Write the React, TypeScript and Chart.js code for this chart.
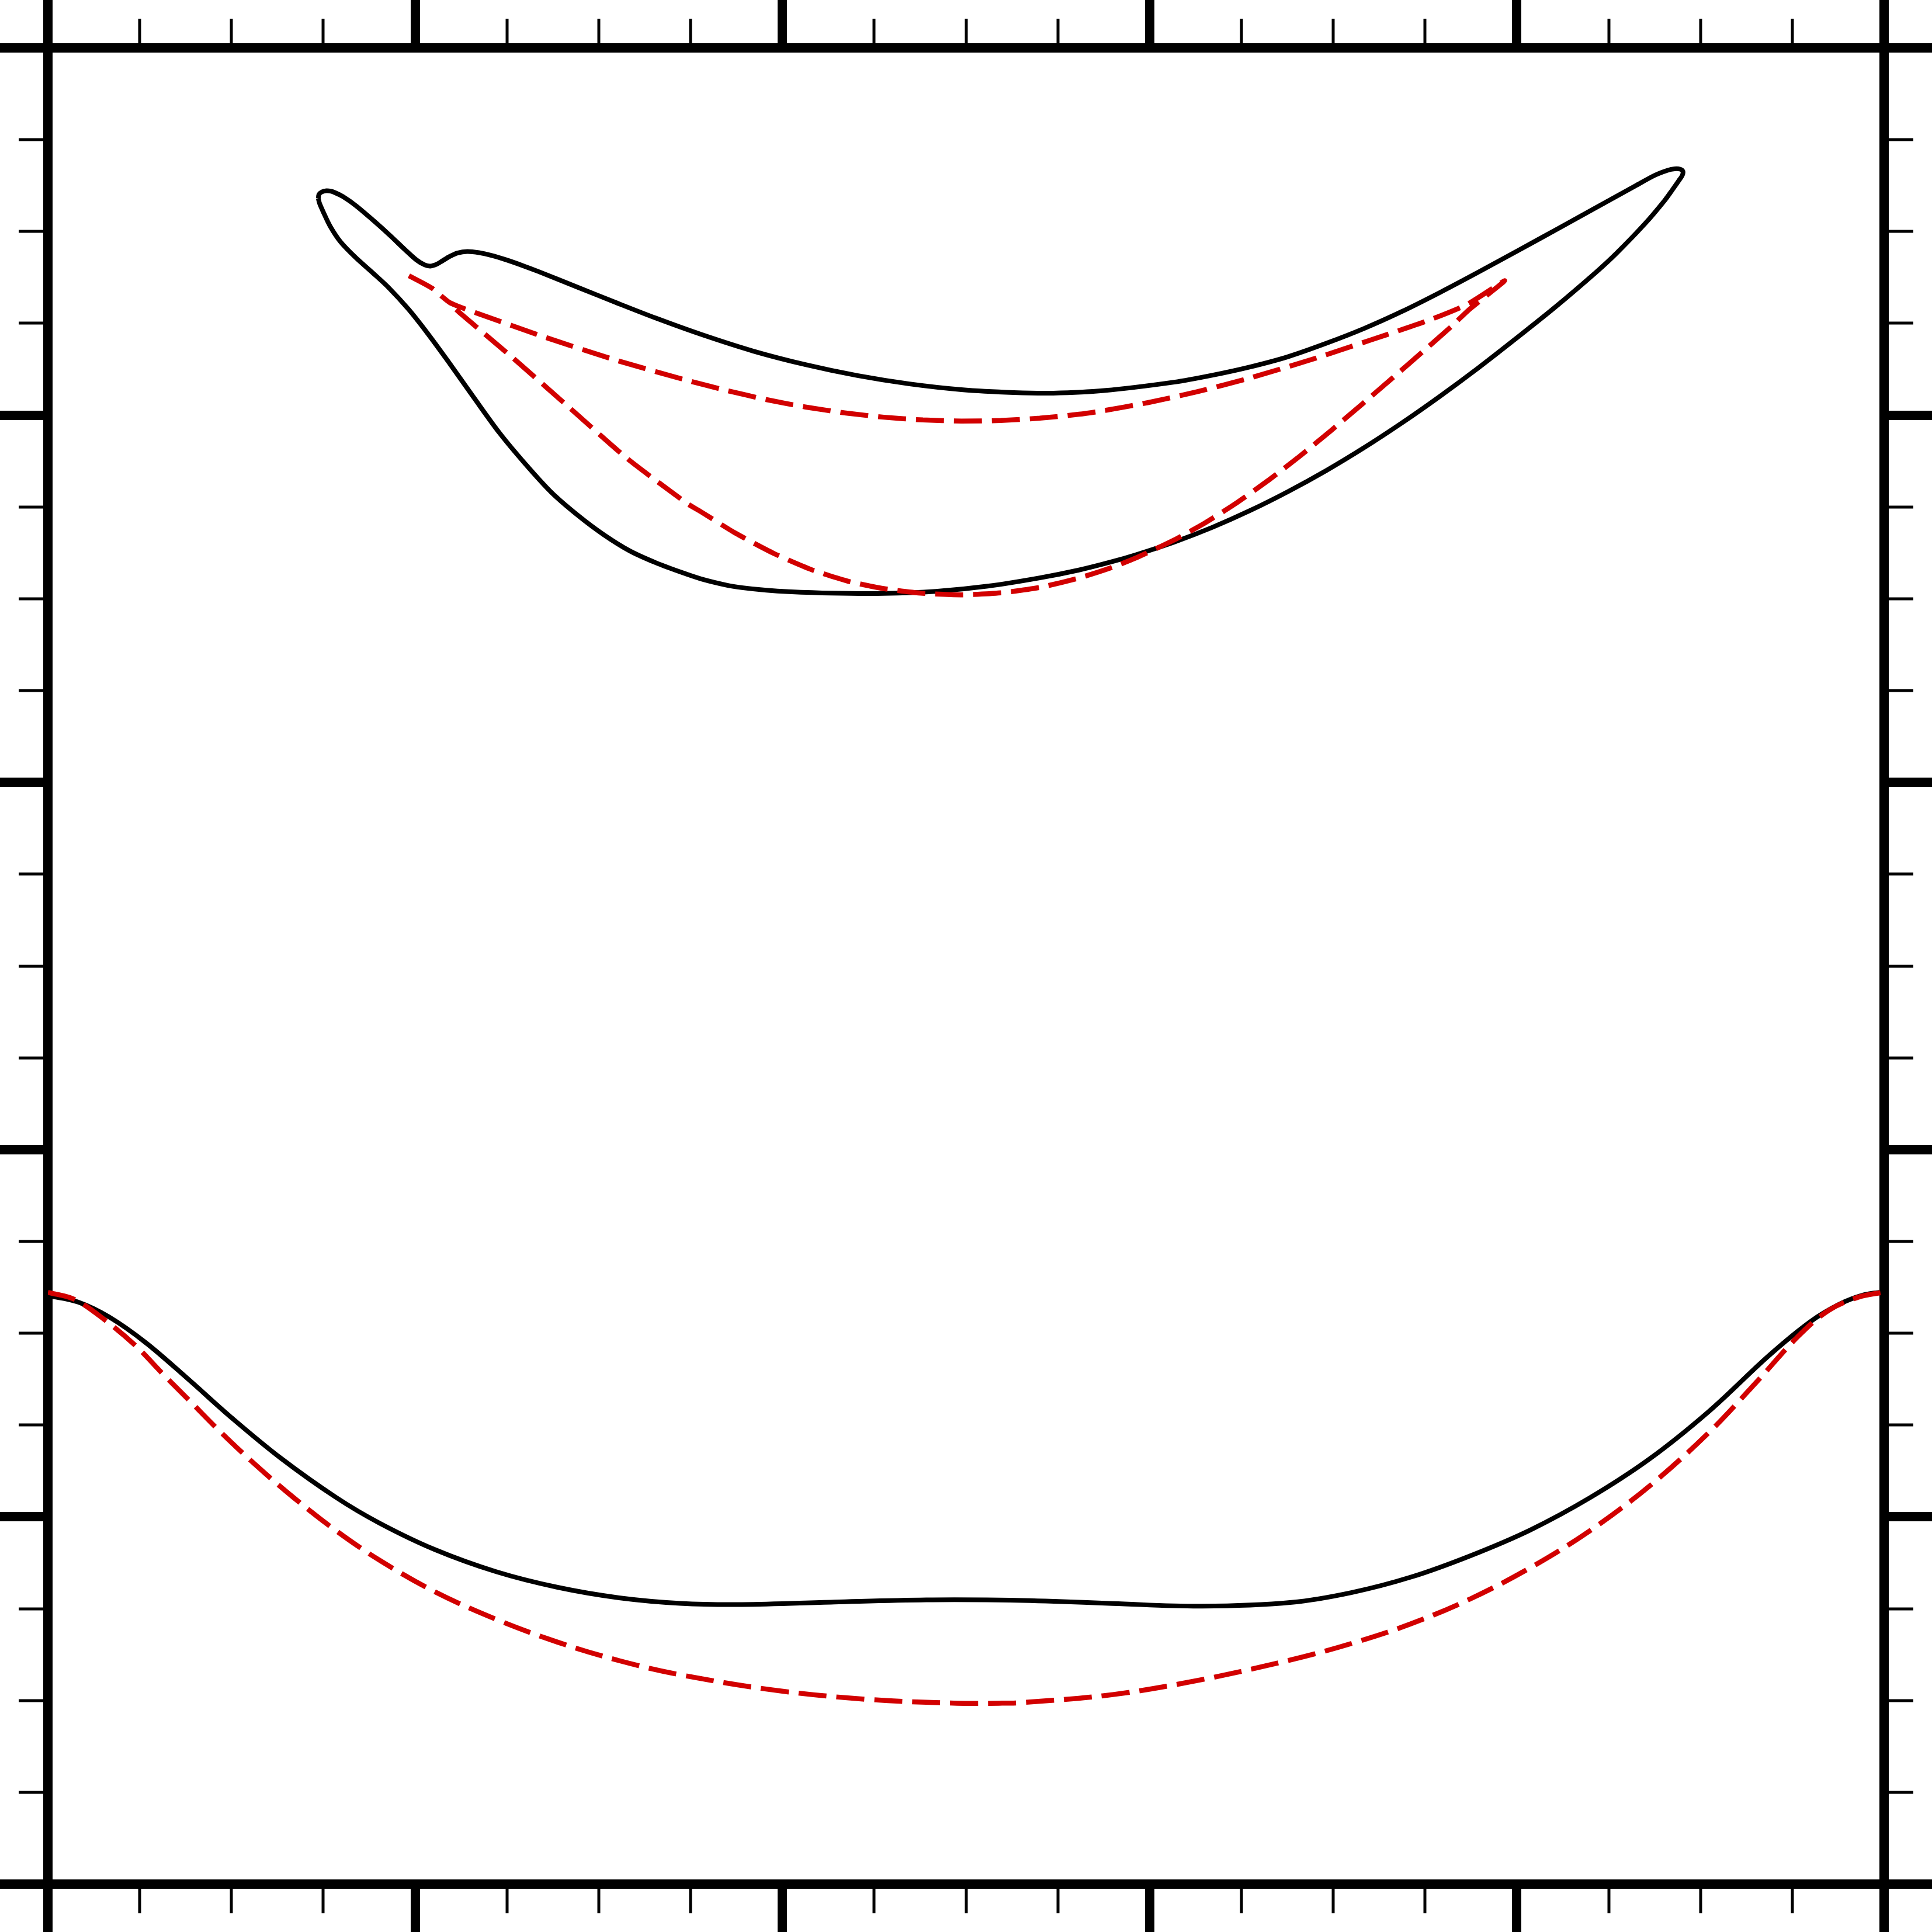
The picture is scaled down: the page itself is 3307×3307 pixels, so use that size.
import React, { useEffect, useRef } from 'react';
import { Chart, registerables } from 'chart.js';

Chart.register(...registerables);

// Axis range and tick positions (no labels in the reference)
const AXIS_MIN = 0;
const AXIS_MAX = 5;
const MAJOR_TICKS = [0, 1, 2, 3, 4, 5];
const TICK_VALUES = [0, 0.25, 0.5, 0.75, 1, 1.25, 1.5, 1.75, 2, 2.25, 2.5, 2.75, 3, 3.25, 3.5, 3.75, 4, 4.25, 4.5, 4.75, 5];

// Blade outline (solid black, closed)
const bladeX = [0.7364, 0.7380, 0.7460, 0.7587, 0.7714, 0.7826, 0.8032, 0.8398, 0.8875, 0.9305, 0.9718, 1.0037, 1.0259, 1.0418, 1.0593, 1.0736, 1.0943, 1.1150, 1.1420, 1.1739, 1.2073, 1.2486, 1.2963, 1.3361, 1.4427, 1.5492, 1.6558, 1.7783, 1.9198, 2.0630, 2.2046, 2.3461, 2.4877, 2.6308, 2.7374, 2.8758, 3.0667, 3.1700, 3.2734, 3.3768, 3.4802, 3.5836, 3.6870, 3.7919, 3.8953, 4.0051, 4.1117, 4.2166, 4.3232, 4.3757, 4.4107, 4.4298, 4.4441, 4.4520, 4.4505, 4.4401, 4.4234, 4.4027, 4.3503, 4.2707, 4.2166, 4.1021, 3.9987, 3.8953, 3.7919, 3.6885, 3.5836, 3.4802, 3.3768, 3.2734, 3.1700, 3.0667, 2.9633, 2.8917, 2.8074, 2.7008, 2.5592, 2.4177, 2.2745, 2.1330, 2.0169, 1.9564, 1.8896, 1.8498, 1.7783, 1.7258, 1.6558, 1.5842, 1.5126, 1.4427, 1.3711, 1.3011, 1.2295, 1.1580, 1.0880, 1.0307, 0.9814, 0.9273, 0.8844, 0.8382, 0.7969, 0.7683, 0.7492, 0.7396, 0.7364];
const bladeY = [4.5897, 4.6008, 4.6079, 4.6111, 4.6095, 4.6055, 4.5952, 4.5696, 4.5290, 4.4904, 4.4511, 4.4225, 4.4091, 4.4060, 4.4112, 4.4198, 4.4322, 4.4414, 4.4456, 4.4424, 4.4351, 4.4227, 4.4060, 4.3909, 4.3482, 4.3056, 4.2641, 4.2200, 4.1747, 4.1375, 4.1077, 4.0851, 4.0695, 4.0616, 4.0600, 4.0669, 4.0898, 4.1085, 4.1312, 4.1591, 4.1953, 4.2358, 4.2822, 4.3347, 4.3894, 4.4492, 4.5077, 4.5658, 4.6246, 4.6532, 4.6668, 4.6707, 4.6699, 4.6644, 4.6532, 4.6373, 4.6135, 4.5849, 4.5229, 4.4402, 4.3900, 4.2922, 4.2095, 4.1289, 4.0524, 3.9799, 3.9112, 3.8487, 3.7918, 3.7401, 3.6941, 3.6542, 3.6200, 3.5993, 3.5782, 3.5569, 3.5343, 3.5201, 3.5144, 3.5152, 3.5192, 3.5232, 3.5303, 3.5367, 3.5542, 3.5717, 3.5979, 3.6305, 3.6751, 3.7275, 3.7896, 3.8659, 3.9518, 4.0504, 4.1490, 4.2269, 4.2890, 4.3478, 4.3876, 4.4290, 4.4719, 4.5149, 4.5546, 4.5769, 4.5897];

// Blade reference contour (red dashed)
const bladeDashX = [0.9830, 1.0450, 1.0943, 1.1723, 1.3425, 1.5413, 1.7401, 1.8498, 1.9564, 2.0630, 2.1696, 2.2761, 2.3827, 2.4877, 2.5943, 2.7008, 2.8074, 2.8599, 2.9951, 3.1287, 3.2734, 3.4389, 3.6043, 3.7506, 3.8636, 3.9669, 3.8683, 3.8222, 3.7395, 3.6568, 3.5741, 3.4913, 3.4086, 3.3259, 3.2321, 3.1494, 3.0667, 2.9633, 2.8917, 2.8074, 2.7008, 2.5943, 2.4877, 2.3827, 2.2761, 2.1759, 2.0773, 1.9771, 1.8706, 1.7783, 1.7401, 1.5779, 1.4204, 1.2645, 1.1230, 1.0943];
const bladeDashY = [4.3797, 4.3463, 4.3065, 4.2763, 4.2160, 4.1514, 4.0948, 4.0668, 4.0423, 4.0221, 4.0062, 3.9944, 3.9869, 3.9838, 3.9854, 3.9917, 4.0024, 4.0097, 4.0340, 4.0635, 4.1012, 4.1508, 4.2053, 4.2548, 4.3010, 4.3660, 4.2858, 4.2419, 4.1691, 4.0972, 4.0261, 3.9558, 3.8880, 3.8244, 3.7578, 3.7056, 3.6601, 3.6114, 3.5834, 3.5565, 3.5309, 3.5161, 3.5107, 3.5148, 3.5276, 3.5486, 3.5800, 3.6232, 3.6796, 3.7369, 3.7598, 3.8815, 4.0201, 4.1572, 4.2775, 4.3032];

// Lower wall (solid black)
const wallX = [0, 0.0822, 0.1658, 0.2664, 0.3832, 0.5006, 0.6344, 0.7850, 0.9025, 1.0531, 1.2205, 1.3879, 1.5553, 1.7226, 1.8897, 2.1410, 2.3919, 2.5895, 2.7400, 2.8998, 3.1433, 3.3867, 3.5491, 3.7113, 3.8736, 4.0360, 4.1983, 4.3606, 4.5228, 4.6852, 4.7988, 4.8799, 4.9448, 5.0];
const wallY = [1.6025, 1.5850, 1.5448, 1.4743, 1.3740, 1.2696, 1.1597, 1.0527, 0.9832, 0.9111, 0.8507, 0.8081, 0.7796, 0.7645, 0.7612, 0.7680, 0.7738, 0.7735, 0.7700, 0.7640, 0.7568, 0.7672, 0.7937, 0.8359, 0.8942, 0.9640, 1.0517, 1.1573, 1.2871, 1.4382, 1.5313, 1.5799, 1.6046, 1.6128];

// Lower wall reference (red dashed)
const wallDashX = [0, 0.0739, 0.1557, 0.2406, 0.3097, 0.3838, 0.4670, 0.5673, 0.6680, 0.7850, 0.9025, 1.0531, 1.2205, 1.3879, 1.5553, 1.7226, 1.9735, 2.2245, 2.4757, 2.5895, 2.6563, 2.8998, 3.1433, 3.3867, 3.5491, 3.7113, 3.8736, 4.0360, 4.1983, 4.3606, 4.5228, 4.6526, 4.7664, 4.8475, 4.9286, 5.0];
const wallDashY = [1.6115, 1.5914, 1.5357, 1.4643, 1.3925, 1.3183, 1.2341, 1.1399, 1.0533, 0.9621, 0.8823, 0.7964, 0.7209, 0.6588, 0.6085, 0.5699, 0.5287, 0.5035, 0.4925, 0.4925, 0.4945, 0.5160, 0.5570, 0.6111, 0.6550, 0.7086, 0.7767, 0.8611, 0.9617, 1.0835, 1.2295, 1.3671, 1.4921, 1.5612, 1.5978, 1.6121];

const BLACK = '#000000';
const RED = '#d20000';

const toPoints = (xs: number[], ys: number[]) => xs.map((x, i) => ({ x, y: ys[i] }));
const isMajor = (v: number) => MAJOR_TICKS.some((m) => Math.abs(m - v) < 1e-6);

function makeAxis(position: string, outerFirst: boolean) {
  return {
    type: 'linear',
    position,
    min: AXIS_MIN,
    max: AXIS_MAX,
    afterBuildTicks: (scale: any) => {
      scale.ticks = TICK_VALUES.map((value) => ({ value }));
    },
    ticks: { display: false, stepSize: 0.25 },
    title: { display: false },
    grid: {
      display: true,
      drawOnChartArea: false,
      drawTicks: true,
      tickLength: 82,
      lineWidth: 16,
      color: BLACK,
      tickColor: BLACK,
      tickWidth: (ctx: any) => (ctx.tick && isMajor(ctx.tick.value) ? 16 : 5),
      tickBorderDash: (ctx: any) =>
        ctx.tick && isMajor(ctx.tick.value) ? [] : outerFirst ? [42, 32] : [42, 1000],
      tickBorderDashOffset: (ctx: any) =>
        ctx.tick && !isMajor(ctx.tick.value) && outerFirst ? 42 : 0,
    },
    border: { display: true, width: 16, color: BLACK },
  };
}

export default function App() {
  const canvasRef = useRef<HTMLCanvasElement>(null);

  useEffect(() => {
    const canvas = canvasRef.current;
    if (!canvas) return;
    const common = {
      showLine: true,
      pointRadius: 0,
      pointHoverRadius: 0,
      fill: false,
      xAxisID: 'x',
      yAxisID: 'y',
    };
    const chart = new Chart(canvas, {
      type: 'scatter',
      data: {
        datasets: [
          {
            ...common,
            label: 'blade reference',
            data: toPoints(bladeDashX, bladeDashY),
            borderColor: RED,
            borderWidth: 8.5,
            borderDash: [48, 17],
            tension: 0.2,
          },
          {
            ...common,
            label: 'wall reference',
            data: toPoints(wallDashX, wallDashY),
            borderColor: RED,
            borderWidth: 8.5,
            borderDash: [48, 17],
            tension: 0.35,
          },
          {
            ...common,
            label: 'blade',
            data: toPoints(bladeX, bladeY),
            borderColor: BLACK,
            borderWidth: 8,
            tension: 0.3,
          },
          {
            ...common,
            label: 'wall',
            data: toPoints(wallX, wallY),
            borderColor: BLACK,
            borderWidth: 8,
            tension: 0.35,
          },
        ],
      } as any,
      options: {
        animation: false,
        responsive: false,
        devicePixelRatio: 1,
        events: [],
        layout: { padding: 0 },
        plugins: {
          legend: { display: false },
          tooltip: { enabled: false },
          title: { display: false },
        },
        scales: {
          x: makeAxis('bottom', false),
          x2: makeAxis('top', true),
          y: makeAxis('left', true),
          y2: makeAxis('right', false),
        },
      } as any,
    });
    return () => chart.destroy();
  }, []);

  return (
    <canvas
      ref={canvasRef}
      width={3307}
      height={3307}
      style={{ position: 'absolute', left: 0, top: 0, width: '3307px', height: '3307px', background: '#ffffff' }}
    />
  );
}
